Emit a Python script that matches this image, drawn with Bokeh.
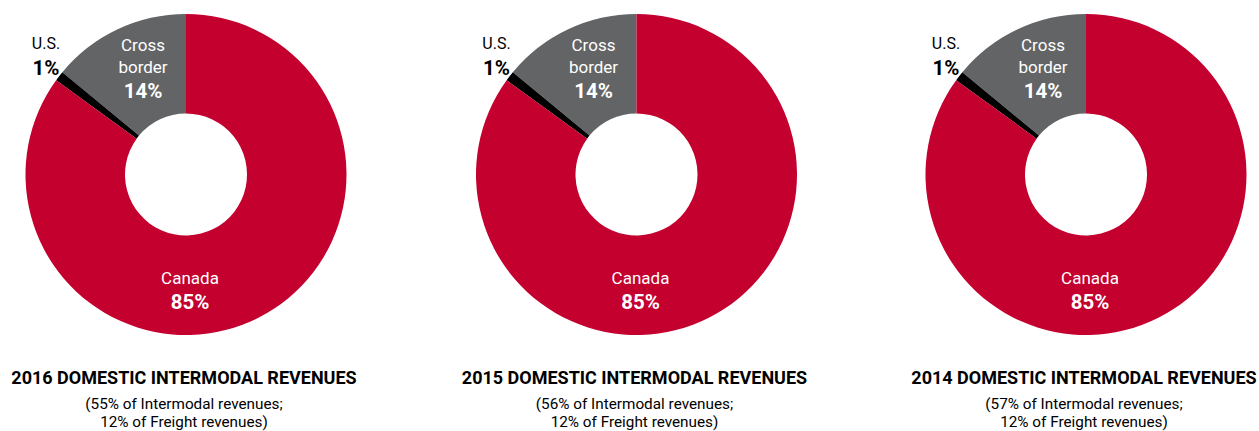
import math
from bokeh.plotting import figure
from bokeh.models import Range1d, ColumnDataSource
from bokeh.core.properties import value
from bokeh.embed import file_html
from bokeh.resources import INLINE

years = ["2016", "2015", "2014"]
segments = ["Cross border", "U.S.", "Canada"]
shares = {
    "2016": [14, 1, 85],
    "2015": [14, 1, 85],
    "2014": [14, 1, 85],
}
intermodal_share = {"2016": 55, "2015": 56, "2014": 57}
freight_share = {"2016": 12, "2015": 12, "2014": 12}
colors = ["#636466", "#000000", "#C4002F"]

FONT = value("Roboto")

W, H = 1259, 431
p = figure(width=W, height=H, output_backend="svg", toolbar_location=None,
           x_range=Range1d(0, W), y_range=Range1d(-H, 0),
           min_border=0, outline_line_color=None)
p.axis.visible = False
p.grid.visible = False
p.background_fill_color = "white"

centers_x = [185.5, 636, 1085.5]
cy = -174
R_OUT, R_IN = 160.5, 61


def txt(x, y, s, color, size, bold=False):
    p.text(x=[x], y=[y], text=[s], text_color=color, text_font=FONT,
           text_font_size=size, text_font_style="bold" if bold else "normal",
           text_align="center", text_baseline="middle")


for yr, cx in zip(years, centers_x):
    vals = shares[yr]
    total = float(sum(vals))
    starts, ends = [], []
    a = math.pi / 2
    for v in vals:
        starts.append(a)
        a += 2 * math.pi * v / total
        ends.append(a)
    src = ColumnDataSource(dict(start=starts, end=ends, color=colors, seg=segments))
    p.annular_wedge(x=cx, y=cy, inner_radius=R_IN, outer_radius=R_OUT,
                    start_angle="start", end_angle="end", color="color",
                    line_color=None, source=src)

    # segment labels
    txt(cx - 43, -44, "Cross", "white", "17px")
    txt(cx - 43, -66, "border", "white", "17px")
    txt(cx - 43, -90, f"{vals[0]}%", "white", "20.5px", True)
    txt(cx - 140, -43, "U.S.", "black", "16px")
    txt(cx - 140, -67, f"{vals[1]}%", "black", "20.5px", True)
    txt(cx + 4, -277, "Canada", "white", "17px")
    txt(cx + 4, -301, f"{vals[2]}%", "white", "20.5px", True)

    # titles
    txt(cx - 2, -377, f"{yr} DOMESTIC INTERMODAL REVENUES", "black", "18px", True)
    txt(cx - 2, -403, f"({intermodal_share[yr]}% of Intermodal revenues;", "black", "15.3px")
    txt(cx - 2, -421.5, f"{freight_share[yr]}% of Freight revenues)", "black", "15.3px")

open("out.html", "w").write(file_html(p, INLINE))
